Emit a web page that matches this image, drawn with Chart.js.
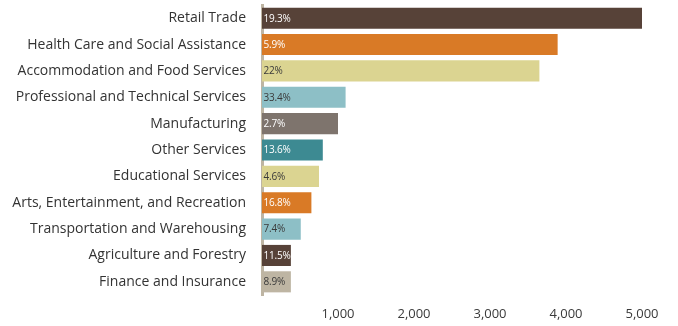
<!DOCTYPE html>
<html lang="en">
<head>
    <meta charset="UTF-8">
    <title>Industries</title>
    <script src="https://cdn.jsdelivr.net/npm/chart.js"></script>
    <style>
        html, body { margin: 0; padding: 0; background: #fff; }
        #wrap { width: 678px; height: 326px; }
    </style>
</head>
<body>
<div id="wrap"><canvas id="chart"></canvas></div>

<script>
    const industries = [
        'Retail Trade',
        'Health Care and Social Assistance',
        'Accommodation and Food Services',
        'Professional and Technical Services',
        'Manufacturing',
        'Other Services',
        'Educational Services',
        'Arts, Entertainment, and Recreation',
        'Transportation and Warehousing',
        'Agriculture and Forestry',
        'Finance and Insurance'
    ];
    const counts = [5000, 3890, 3650, 1100, 1000, 800, 750, 650, 510, 380, 380];
    const shares = ['19.3%', '5.9%', '22%', '33.4%', '2.7%', '13.6%', '4.6%', '16.8%', '7.4%', '11.5%', '8.9%'];
    const xTicks = [1000, 2000, 3000, 4000, 5000];

    const brown = '#574238', orange = '#d97a26', sand = '#dbd491', sky = '#8dbfc6',
        taupe = '#7e746d', teal = '#3d8a92', beige = '#beb5a3';
    const barColors = [brown, orange, sand, sky, taupe, teal, sand, orange, sky, brown, beige];
    const textColors = ['#fff', '#fff', '#3a3a3a', '#3a3a3a', '#fff', '#fff', '#3a3a3a', '#fff', '#3a3a3a', '#fff', '#3a3a3a'];

    // percentage text drawn at the start of each bar
    const shareLabels = {
        id: 'shareLabels',
        afterDatasetsDraw(chart) {
            const ctx = chart.ctx;
            const meta = chart.getDatasetMeta(0);
            ctx.save();
            ctx.font = '10px "Open Sans"';
            ctx.letterSpacing = '-0.2px';
            ctx.textBaseline = 'middle';
            ctx.textAlign = 'left';
            meta.data.forEach((bar, i) => {
                ctx.fillStyle = textColors[i];
                ctx.fillText(shares[i], bar.base + 1.5, bar.y + 0.5);
            });
            ctx.restore();
        }
    };

    new Chart(document.getElementById('chart'), {
        type: 'bar',
        data: {
            labels: industries,
            datasets: [{
                data: counts,
                backgroundColor: barColors,
                barPercentage: 0.8,
                categoryPercentage: 1
            }]
        },
        options: {
            indexAxis: 'y',
            responsive: true,
            maintainAspectRatio: false,
            animation: false,
            layout: {padding: {top: 5, right: 36, left: 0, bottom: 0}},
            plugins: {legend: {display: false}, tooltip: {enabled: false}},
            scales: {
                x: {
                    min: 0,
                    max: 5000,
                    afterBuildTicks: axis => { axis.ticks = xTicks.map(v => ({value: v})); },
                    grid: {display: false, drawTicks: false},
                    border: {display: false},
                    ticks: {
                        color: '#3a3a3a',
                        font: {family: 'Open Sans', size: 13},
                        padding: 11,
                        callback: v => v.toLocaleString('en-US')
                    },
                    afterFit: axis => { axis.height = 31; }
                },
                y: {
                    grid: {display: false, drawTicks: false},
                    border: {display: true, color: beige, width: 3},
                    ticks: {
                        color: '#333',
                        font: {family: 'Open Sans', size: 14},
                        padding: 16
                    },
                    afterFit: axis => {
                        axis.width = 262;
                        axis.paddingTop = 0;
                        axis.paddingBottom = 0;
                    }
                }
            }
        },
        plugins: [shareLabels]
    });
</script>
</body>
</html>
